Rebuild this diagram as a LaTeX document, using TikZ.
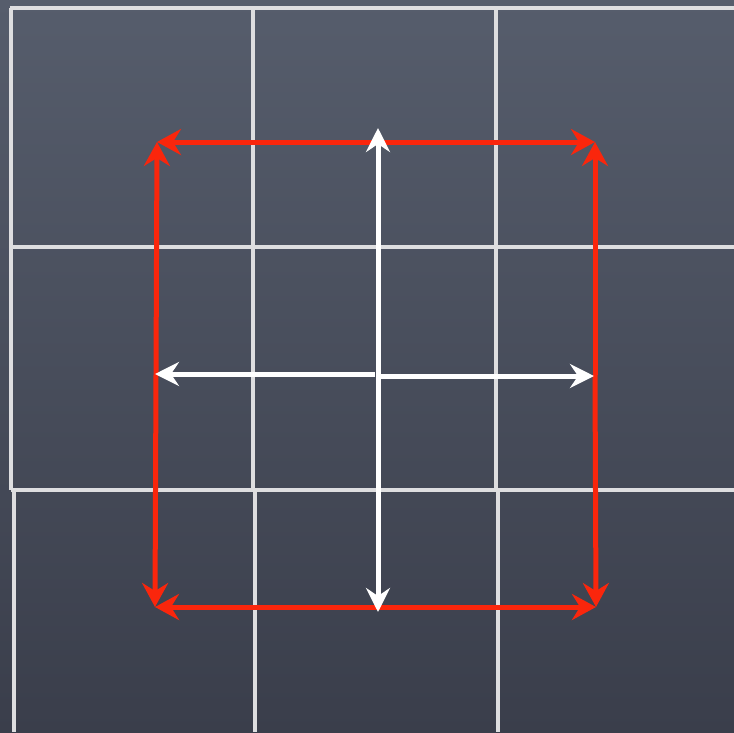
\documentclass[tikz,border=0pt]{standalone}
\usetikzlibrary{arrows.meta}
\definecolor{bgtop}{RGB}{86,93,108}
\definecolor{bgbot}{RGB}{58,62,75}
\definecolor{gridc}{RGB}{222,222,224}
\definecolor{redc}{RGB}{250,38,12}
\tikzset{
  gridline/.style={draw=gridc, line width=4pt},
  redarrow/.style={draw=redc, line width=5pt, -{Stealth[length=24pt,width=26pt,inset=8pt]}},
  whitearrow/.style={draw=white, line width=5pt, -{Stealth[length=24pt,width=24pt,inset=8pt]}},
}
\begin{document}
\begin{tikzpicture}[x=1pt,y=-1pt]
\useasboundingbox (0,0) rectangle (734,732);
\shade[top color=bgtop, bottom color=bgbot] (0,0) rectangle (734,732);
% grid
\draw[gridline] (10,8) -- (734,8);
\draw[gridline] (11,8) -- (11,490);
\draw[gridline] (11,247) -- (734,247);
\draw[gridline] (11,490) -- (734,490);
\draw[gridline] (14,490) -- (14,732);
\draw[gridline] (253,8) -- (253,490);
\draw[gridline] (255,490) -- (255,732);
\draw[gridline] (496,8) -- (496,490);
\draw[gridline] (498,490) -- (498,732);
% coordinates
\coordinate (c) at (378,375);
\coordinate (tm) at (378,142);
\coordinate (bm) at (378,607);
\coordinate (lm) at (156,375);
\coordinate (rm) at (595,375);
\coordinate (tl) at (157,142);
\coordinate (tr) at (595,142);
\coordinate (bl) at (155,607);
\coordinate (br) at (596,607);
\coordinate (wt) at (378,128);
\coordinate (wb) at (378,612);
\coordinate (wl) at (155,374);
\coordinate (wr) at (594,376);
% red arrows
\draw[redarrow] (tm) -- (tl);
\draw[redarrow] (tm) -- (tr);
\draw[redarrow] (bm) -- (bl);
\draw[redarrow] (bm) -- (br);
\draw[redarrow] (lm) -- (tl);
\draw[redarrow] (lm) -- (bl);
\draw[redarrow] (rm) -- (tr);
\draw[redarrow] (rm) -- (br);
% white arrows
\draw[whitearrow] (c) -- (wt);
\draw[whitearrow] (c) -- (wb);
\draw[whitearrow] (375,374) -- (wl);
\draw[whitearrow] (381,376) -- (wr);
\end{tikzpicture}
\end{document}
